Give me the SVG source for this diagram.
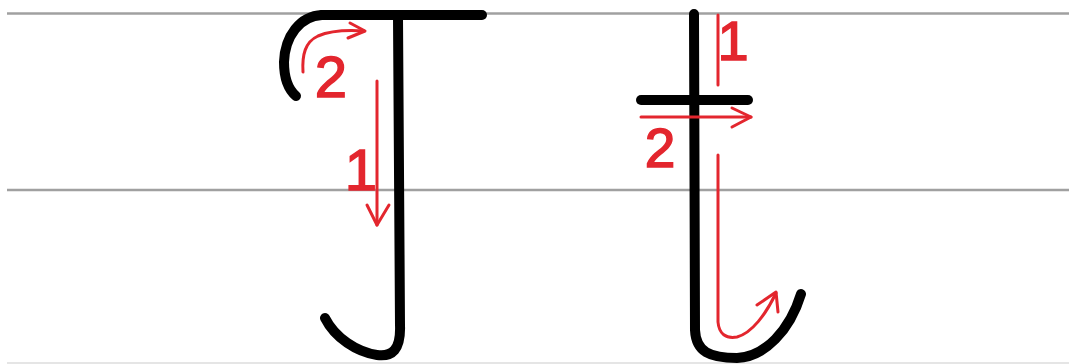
<svg xmlns="http://www.w3.org/2000/svg" width="1069" height="364" viewBox="0 0 1069 364">
<style>
.guide{stroke:#a0a0a0;stroke-width:2.5;fill:none}
.ink{stroke:#000;stroke-width:10;fill:none;stroke-linecap:round;stroke-linejoin:round}
.red{stroke:#e3262e;stroke-width:3;fill:none;stroke-linecap:round;stroke-linejoin:round}
.num{fill:#e3262e;stroke:#e3262e;stroke-width:1.5;font-family:"Liberation Sans",Arial,sans-serif;text-anchor:middle}
</style>
<rect width="1069" height="364" fill="#fff"/>
<g id="guides">
<line class="guide" x1="7" y1="13.5" x2="1069" y2="13.5"/>
<line class="guide" x1="7" y1="190" x2="1069" y2="190"/>
<line x1="7" y1="363" x2="1069" y2="363" stroke="#dcdcdc" stroke-width="1.5"/>
</g>
<g id="letter-left">
<path class="ink" d="M322,15 L482,15"/>
<path class="ink" d="M322,15 C300,16 285,36 284,62 C284,78 289,90 296,96"/>
<path class="ink" d="M398,17 L400,325 C401,350 392,357 377,355 C357,352 335,338 325,318"/>
</g>
<g id="letter-right">
<path class="ink" d="M694,14 L695,330 C696,352 710,358 737,358 C765,357 790,330 801,294"/>
<path class="ink" d="M641,100 L748,100"/>
</g>
<g id="connectors">
<path class="red" d="M303,72 C302,55 305,42 318,36 C332,30 348,30 364,31"/>
<path class="red" d="M350,23 L365,31 L348,38"/>
<path class="red" d="M377,81 L377,225"/>
<path class="red" d="M367,205 L377,225 L389,205"/>
<path class="red" d="M718,15 L718,85"/>
<path class="red" d="M641,117 L751,117"/>
<path class="red" d="M732,108 L751,117 L732,127"/>
<path class="red" d="M718,155 L718,322 C719,334 726,339 737,337 C752,333 766,314 776,293"/>
<path class="red" d="M757,305 L776,292 L778,312"/>
</g>
<g id="labels">
<text class="num" x="331" y="97" font-size="58">2</text>
<text class="num" x="361" y="190" font-size="58">1</text>
<text class="num" x="733" y="60" font-size="56">1</text>
<text class="num" x="660" y="167" font-size="55">2</text>
</g>
</svg>
